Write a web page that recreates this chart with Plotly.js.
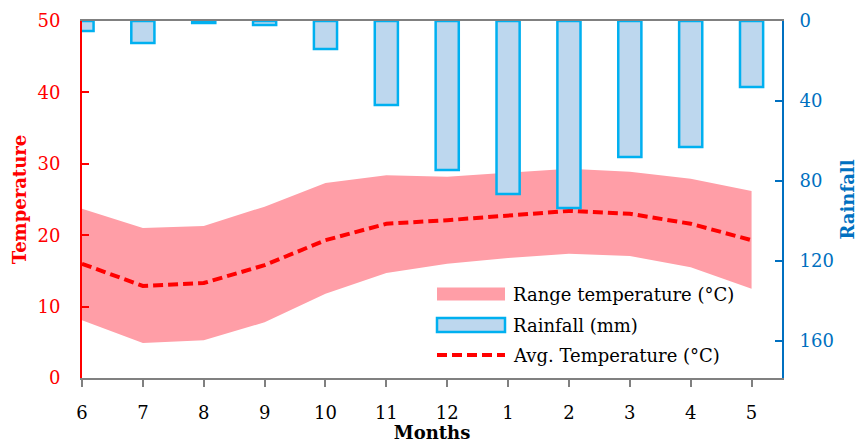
<!DOCTYPE html>
<html>
<head>
<meta charset="utf-8">
<script src="https://cdn.plot.ly/plotly-3.0.1.min.js"></script>
<style>html,body{margin:0;padding:0;background:#fff;}#chart{width:860px;height:443px;}</style>
</head>
<body>
<div id="chart"></div>
<script>
const months = ['6','7','8','9','10','11','12','1','2','3','4','5'];
const rainfall = [5, 11, 1, 2, 14, 42, 74.5, 86.5, 93.5, 68, 63, 33];
const avgTemp = [16.0, 12.9, 13.3, 15.8, 19.3, 21.6, 22.1, 22.8, 23.4, 23.0, 21.6, 19.3];
const maxTemp = [23.7, 21.0, 21.3, 24.0, 27.3, 28.4, 28.2, 28.7, 29.3, 28.9, 27.9, 26.2];
const minTemp = [8.1, 4.9, 5.3, 7.8, 11.8, 14.7, 16.0, 16.8, 17.4, 17.1, 15.5, 12.5];
const legendLabels = ['Range temperature (°C)', 'Rainfall (mm)', 'Avg. Temperature (°C)'];

const FONT = 'DejaVu Serif';
const RANGE_COLOR = '#FF9EA7', BAR_FILL = '#BDD7EE', BAR_LINE = '#00B0F0', AVG_COLOR = '#FF0000';
const traces = [
  {x: months, y: minTemp, type: 'scatter', mode: 'lines', line: {width: 0, color: 'rgba(0,0,0,0)'},
   showlegend: false, hoverinfo: 'skip'},
  {x: months, y: maxTemp, type: 'scatter', mode: 'lines', fill: 'tonexty', fillcolor: RANGE_COLOR,
   line: {width: 0, color: RANGE_COLOR}, name: legendLabels[0], showlegend: false},
  {x: months, y: rainfall, type: 'bar', yaxis: 'y2', width: 0.38, name: legendLabels[1], showlegend: false,
   marker: {color: BAR_FILL, line: {color: BAR_LINE, width: 2.5}}},
  {x: months, y: avgTemp, type: 'scatter', mode: 'lines', name: legendLabels[2], showlegend: false,
   line: {color: AVG_COLOR, width: 4, dash: '10px,5px'}}
];

// legend (paper coordinates)
const L = 82, R = 782, T = 21, B = 378;
const px = v => (v - L) / (R - L);
const py = v => (B - v) / (B - T);
const rowsY = [294, 325, 355];
const symX0 = px(437), symX1 = px(505), txtX = px(511);
const shapes = [
  {type: 'rect', xref: 'paper', yref: 'paper', x0: symX0, x1: symX1, y0: py(rowsY[0] + 6.5), y1: py(rowsY[0] - 6.5),
   fillcolor: RANGE_COLOR, line: {width: 0}},
  {type: 'rect', xref: 'paper', yref: 'paper', x0: symX0, x1: symX1, y0: py(rowsY[1] + 7), y1: py(rowsY[1] - 7),
   fillcolor: BAR_FILL, line: {width: 2.5, color: BAR_LINE}},
  {type: 'line', xref: 'paper', yref: 'paper', x0: symX0, x1: symX1, y0: py(rowsY[2]), y1: py(rowsY[2]),
   line: {width: 4, color: AVG_COLOR, dash: '10px,5px'}}
];
const annotations = legendLabels.map((t, i) => ({
  xref: 'paper', yref: 'paper', x: txtX, y: py(rowsY[i]), xanchor: 'left', yanchor: 'middle',
  text: t, showarrow: false, font: {family: FONT, size: 18, color: '#000'}
}));

const layout = {
  width: 860, height: 443,
  margin: {l: 82, r: 78, t: 21, b: 65},
  paper_bgcolor: '#fff', plot_bgcolor: '#fff',
  font: {family: FONT, size: 18, color: '#000'},
  showlegend: false,
  shapes: shapes, annotations: annotations,
  xaxis: {
    type: 'category', range: [0, 11.5], showgrid: false, zeroline: false,
    showline: true, linecolor: '#808080', linewidth: 2, mirror: true,
    ticks: 'outside', ticklen: 7, tickcolor: '#808080', tickwidth: 2,
    tickfont: {family: FONT, size: 18, color: '#000'}, ticklabelstandoff: 10,
    title: {text: '<b>Months</b>', font: {family: FONT, size: 18, color: '#000'}, standoff: 4}
  },
  yaxis: {
    range: [0, 50], dtick: 10, showgrid: false, zeroline: false,
    showline: true, linecolor: '#FF0000', linewidth: 2,
    ticks: 'inside', ticklen: 7, tickcolor: '#FF0000', tickwidth: 2,
    tickfont: {family: FONT, size: 18, color: '#FF0000'}, ticklabelstandoff: 16,
    title: {text: '<b>Temperature</b>', font: {family: FONT, size: 18, color: '#FF0000'}, standoff: 6}
  },
  yaxis2: {
    overlaying: 'y', side: 'right', range: [178.5, 0], tickvals: [0, 40, 80, 120, 160],
    showgrid: false, zeroline: false, showline: true, linecolor: '#0070C0', linewidth: 2,
    ticks: 'inside', ticklen: 7, tickcolor: '#0070C0', tickwidth: 2,
    tickfont: {family: FONT, size: 18, color: '#0070C0'}, ticklabelstandoff: 12,
    title: {text: '<b>Rainfall</b>', font: {family: FONT, size: 18, color: '#0070C0'}, standoff: 8}
  },
  bargap: 0
};

Plotly.newPlot('chart', traces, layout, {displayModeBar: false, staticPlot: true});
</script>
</body>
</html>
